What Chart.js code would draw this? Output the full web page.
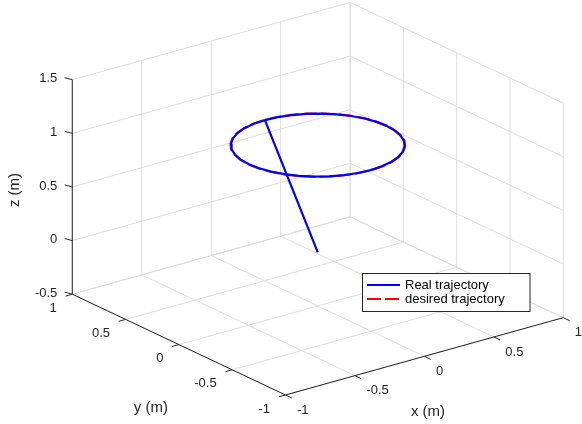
<!DOCTYPE html>
<html>
<head>
<meta charset="utf-8">
<script src="https://cdn.jsdelivr.net/npm/chart.js@4.4.0/dist/chart.umd.min.js"></script>
<style>
  html, body { margin: 0; padding: 0; background: #fff; }
  #wrap { width: 582px; height: 424px; position: relative; }
</style>
</head>
<body>
<div id="wrap"><canvas id="trajChart"></canvas></div>
<script>
// Axis ticks
const xTicks = [-1, -0.5, 0, 0.5, 1];
const yTicks = [-1, -0.5, 0, 0.5, 1];
const zTicks = [-0.5, 0, 0.5, 1, 1.5];
const xTickLabels = ['-1', '-0.5', '0', '0.5', '1'];
const yTickLabels = ['-1', '-0.5', '0', '0.5', '1'];
const zTickLabels = ['-0.5', '0', '0.5', '1', '1.5'];

// Real trajectory: climb from the origin, then go round the circle
const realX = [0, 0, -0.086, -0.17, -0.248, -0.319, -0.38, -0.43, -0.466, -0.488, -0.496, -0.488, -0.466, -0.43, -0.38, -0.319, -0.248, -0.17, -0.086, 0, 0.086, 0.17, 0.248, 0.319, 0.38, 0.43, 0.466, 0.488, 0.496, 0.488, 0.466, 0.43, 0.38, 0.319, 0.248, 0.17, 0.086, 0];
const realY = [0, 0.496, 0.488, 0.466, 0.43, 0.38, 0.319, 0.248, 0.17, 0.086, 0, -0.086, -0.17, -0.248, -0.319, -0.38, -0.43, -0.466, -0.488, -0.496, -0.488, -0.466, -0.43, -0.38, -0.319, -0.248, -0.17, -0.086, 0, 0.086, 0.17, 0.248, 0.319, 0.38, 0.43, 0.466, 0.488, 0.496];
const realZ = [0, 1, 1, 1, 1, 1, 1, 1, 1, 1, 1, 1, 1, 1, 1, 1, 1, 1, 1, 1, 1, 1, 1, 1, 1, 1, 1, 1, 1, 1, 1, 1, 1, 1, 1, 1, 1, 1];

// Desired trajectory: circle of radius 0.5 at z = 1
const desX = [0.5, 0.492, 0.47, 0.433, 0.383, 0.321, 0.25, 0.171, 0.087, 0, -0.087, -0.171, -0.25, -0.321, -0.383, -0.433, -0.47, -0.492, -0.5, -0.492, -0.47, -0.433, -0.383, -0.321, -0.25, -0.171, -0.087, 0, 0.087, 0.171, 0.25, 0.321, 0.383, 0.433, 0.47, 0.492, 0.5];
const desY = [0, 0.087, 0.171, 0.25, 0.321, 0.383, 0.433, 0.47, 0.492, 0.5, 0.492, 0.47, 0.433, 0.383, 0.321, 0.25, 0.171, 0.087, 0, -0.087, -0.171, -0.25, -0.321, -0.383, -0.433, -0.47, -0.492, -0.5, -0.492, -0.47, -0.433, -0.383, -0.321, -0.25, -0.171, -0.087, 0];
const desZ = [1, 1, 1, 1, 1, 1, 1, 1, 1, 1, 1, 1, 1, 1, 1, 1, 1, 1, 1, 1, 1, 1, 1, 1, 1, 1, 1, 1, 1, 1, 1, 1, 1, 1, 1, 1, 1];

// Camera like matlab's default 3-D view
const az = -37.5 * Math.PI / 180;
const el = 30 * Math.PI / 180;
const zStretch = 0.975;

function project(x, y, z) {
  // box is x,y in [-1,1] and z in [-0.5,1.5], normalise to a cube
  const u = x, v = y, w = z - 0.5;
  return {
    x: Math.cos(az) * u + Math.sin(az) * v,
    y: -Math.sin(el) * Math.sin(az) * u + Math.sin(el) * Math.cos(az) * v + Math.cos(el) * zStretch * w
  };
}

function path(xs, ys, zs) {
  return xs.map((x, i) => project(x, ys[i], zs[i]));
}

function seg(a, b) {
  return [project(a[0], a[1], a[2]), project(b[0], b[1], b[2])];
}

const gridColor = '#dedede';
const axisColor = '#262626';
const fontFam = '"Liberation Sans", Arial, Helvetica, sans-serif';

let datasets = [];

// grid lines on the back walls and the floor
let gridSegs = [];
xTicks.forEach(x => gridSegs.push(seg([x, 1, -0.5], [x, 1, 1.5])));
zTicks.forEach(z => gridSegs.push(seg([-1, 1, z], [1, 1, z])));
yTicks.forEach(y => gridSegs.push(seg([1, y, -0.5], [1, y, 1.5])));
zTicks.forEach(z => gridSegs.push(seg([1, -1, z], [1, 1, z])));
xTicks.forEach(x => gridSegs.push(seg([x, -1, -0.5], [x, 1, -0.5])));
yTicks.forEach(y => gridSegs.push(seg([-1, y, -0.5], [1, y, -0.5])));
gridSegs.forEach(s => datasets.push({
  data: s, showLine: true, borderColor: gridColor, borderWidth: 1,
  pointRadius: 0, order: 3, isDecor: true
}));

// axis lines
[
  seg([-1, 1, -0.5], [-1, 1, 1.5]),
  seg([-1, -1, -0.5], [-1, 1, -0.5]),
  seg([-1, -1, -0.5], [1, -1, -0.5])
].forEach(s => datasets.push({
  data: s, showLine: true, borderColor: axisColor, borderWidth: 1,
  pointRadius: 0, order: 2, isDecor: true
}));

datasets.push({
  label: 'desired trajectory',
  data: path(desX, desY, desZ),
  showLine: true, borderColor: '#ff0000', borderWidth: 2, borderDash: [14, 4],
  pointRadius: 0, order: 1
});
datasets.push({
  label: 'Real trajectory',
  data: path(realX, realY, realZ),
  showLine: true, borderColor: '#0000ff', borderWidth: 2.2,
  pointRadius: 0, order: 0
});

const decorPlugin = {
  id: 'decor',
  afterDatasetsDraw(chart) {
    const ctx = chart.ctx;
    const sx = chart.scales.x, sy = chart.scales.y;
    const px = (x, y, z) => {
      const p = project(x, y, z);
      return [sx.getPixelForValue(p.x), sy.getPixelForValue(p.y)];
    };
    ctx.save();
    ctx.strokeStyle = axisColor;
    ctx.fillStyle = axisColor;
    ctx.lineWidth = 1;
    ctx.font = '13px ' + fontFam;
    ctx.textBaseline = 'middle';

    // z ticks
    ctx.textAlign = 'right';
    zTicks.forEach((z, i) => {
      const [ax, ay] = px(-1, 1, z);
      ctx.beginPath(); ctx.moveTo(ax, ay); ctx.lineTo(ax - 7.7, ay - 2.1); ctx.stroke();
      ctx.fillText(zTickLabels[i], ax - 15, ay - 1);
    });
    // y ticks
    yTicks.forEach((y, i) => {
      const [ax, ay] = px(-1, y, -0.5);
      ctx.beginPath(); ctx.moveTo(ax, ay); ctx.lineTo(ax - 6.7, ay + 1.9); ctx.stroke();
      ctx.fillText(yTickLabels[i], ax - 15.5, ay + 14);
    });
    // x ticks
    ctx.textAlign = 'left';
    xTicks.forEach((x, i) => {
      const [ax, ay] = px(x, -1, -0.5);
      ctx.beginPath(); ctx.moveTo(ax, ay); ctx.lineTo(ax + 6.3, ay + 3); ctx.stroke();
      ctx.fillText(xTickLabels[i], ax + 11.5, ay + 15);
    });

    // axis titles
    ctx.font = '15px ' + fontFam;
    ctx.textAlign = 'center';
    let [tx, ty] = px(0, -1, -0.5);
    ctx.fillText('x (m)', tx + 3.6, ty + 56);
    [tx, ty] = px(-1, 0, -0.5);
    ctx.fillText('y (m)', tx - 28, ty + 63);
    [tx, ty] = px(-1, 1, 0.5);
    ctx.save();
    ctx.translate(tx - 57, ty + 3);
    ctx.rotate(-Math.PI / 2);
    ctx.fillText('z (m)', 0, 0);
    ctx.restore();

    // legend box
    const lx = 362.5, ly = 273.5, lw = 167.5, lh = 38;
    ctx.fillStyle = '#ffffff';
    ctx.fillRect(lx, ly, lw, lh);
    ctx.strokeStyle = axisColor;
    ctx.strokeRect(lx, ly, lw, lh);
    const entries = chart.data.datasets.filter(d => !d.isDecor).slice().reverse();
    ctx.font = '13px ' + fontFam;
    ctx.textAlign = 'left';
    entries.forEach((d, i) => {
      const yy = ly + 11.5 + i * 14;
      ctx.strokeStyle = d.borderColor;
      ctx.lineWidth = 2;
      ctx.setLineDash(d.borderDash || []);
      ctx.beginPath(); ctx.moveTo(lx + 4.5, yy); ctx.lineTo(lx + 37.5, yy); ctx.stroke();
      ctx.setLineDash([]);
      ctx.fillStyle = '#000000';
      ctx.fillText(d.label, lx + 42.5, yy);
    });
    ctx.restore();
  }
};

new Chart(document.getElementById('trajChart'), {
  type: 'scatter',
  data: { datasets: datasets },
  options: {
    responsive: true,
    maintainAspectRatio: false,
    animation: false,
    devicePixelRatio: 1,
    events: [],
    layout: { padding: 0 },
    plugins: { legend: { display: false }, tooltip: { enabled: false } },
    scales: {
      x: { type: 'linear', display: false, min: -1.815, max: 1.509 },
      y: { type: 'linear', display: false, min: -1.774, max: 1.5646 }
    }
  },
  plugins: [decorPlugin]
});
</script>
</body>
</html>
